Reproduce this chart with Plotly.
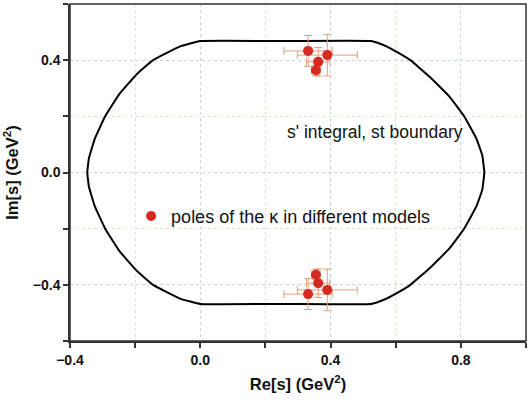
import plotly.graph_objects as go

# boundary of the s' integration region (closed loop)
boundary_x = [0.0, 0.26, 0.525, 0.548, 0.57, 0.61, 0.645, 0.705, 0.765, 0.81, 0.848, 0.866, 0.872,
              0.866, 0.848, 0.81, 0.765, 0.705, 0.645, 0.61, 0.57, 0.548, 0.525, 0.26, 0.0,
              -0.06, -0.145, -0.195, -0.248, -0.292, -0.324, -0.342, -0.347,
              -0.342, -0.324, -0.292, -0.248, -0.195, -0.145, -0.06, 0.0]
boundary_y = [0.468, 0.468, 0.468, 0.46, 0.45, 0.425, 0.40, 0.34, 0.27, 0.20, 0.12, 0.06, 0.0,
              -0.06, -0.12, -0.20, -0.27, -0.34, -0.40, -0.425, -0.45, -0.46, -0.468, -0.468, -0.468,
              -0.45, -0.40, -0.35, -0.28, -0.20, -0.12, -0.05, 0.0,
              0.05, 0.12, 0.20, 0.28, 0.35, 0.40, 0.45, 0.468]

# kappa poles in different models (upper and lower half-plane)
pole_re = [0.331, 0.390, 0.362, 0.355, 0.331, 0.390, 0.362, 0.355]
pole_im = [0.433, 0.418, 0.394, 0.364, -0.433, -0.418, -0.394, -0.364]
pole_re_err = [0.074, 0.092, 0.036, 0.013, 0.074, 0.092, 0.036, 0.013]
pole_im_err = [0.055, 0.074, 0.051, 0.018, 0.055, 0.074, 0.051, 0.018]

x_range = [-0.4, 1.0]
y_range = [-0.6, 0.6]

err_color = "#e2a07a"
axis_color = "#333333"

fig = go.Figure()

fig.add_trace(go.Scatter(
    x=boundary_x, y=boundary_y, mode="lines",
    line=dict(color="black", width=2, shape="spline", smoothing=0.3),
    showlegend=False, hoverinfo="skip"))

fig.add_trace(go.Scatter(
    x=pole_re, y=pole_im, mode="markers",
    name="poles of the \u03ba in different models",
    marker=dict(color="#d42a22", size=10),
    error_x=dict(type="data", array=pole_re_err, color=err_color, thickness=1, width=4),
    error_y=dict(type="data", array=pole_im_err, color=err_color, thickness=1, width=4)))

fig.add_annotation(x=0.259, y=0.145, xref="x", yref="y", xanchor="left", yanchor="middle",
                   text="s' integral, st boundary", showarrow=False,
                   font=dict(size=17.5, color="#111111"))

# frame around the plot area
fig.add_shape(type="rect", xref="paper", yref="paper", x0=0, x1=1, y0=0, y1=1,
              line=dict(color=axis_color, width=1.5), layer="above")

axis_common = dict(
    showline=True, linecolor=axis_color, linewidth=1.5,
    ticks="outside", ticklen=5, tickwidth=1.5, tickcolor=axis_color,
    showgrid=True, gridcolor="#c4d4dc", griddash="3px,3px", gridwidth=1,
    zeroline=False,
    tickfont=dict(size=14, color="#111111", weight="bold"),
)
minor_common = dict(dtick=0.2, tick0=0, ticks="outside", ticklen=5, tickcolor=axis_color,
                    showgrid=True, gridcolor="#dde4c0", griddash="dot")

fig.update_layout(
    xaxis=dict(range=x_range, tick0=0, dtick=0.4, tickformat=".1f", minor=minor_common,
               title=dict(text="<b>Re[s] (GeV<sup>2</sup>)</b>", font=dict(size=16.5, color="#111111"),
                          standoff=12),
               **axis_common),
    yaxis=dict(range=y_range, tick0=0, dtick=0.4, tickformat=".1f", minor=minor_common,
               title=dict(text="<b>Im[s] (GeV<sup>2</sup>)</b>", font=dict(size=16.5, color="#111111"),
                          standoff=10),
               **axis_common),
    width=531, height=400,
    margin=dict(l=70, r=5, t=4, b=59, autoexpand=False),
    paper_bgcolor="white", plot_bgcolor="white",
    font=dict(family="Liberation Sans, Arial, sans-serif"),
    legend=dict(x=0.134, y=0.37, xanchor="left", yanchor="middle",
                bgcolor="rgba(0,0,0,0)", font=dict(size=18, color="#111111")),
)

# drop the default 8px page margin so the figure fills the window exactly
fig.write_html("out.html", config={"displayModeBar": False},
               post_script="document.body.style.margin='0';document.body.style.overflow='hidden';")
